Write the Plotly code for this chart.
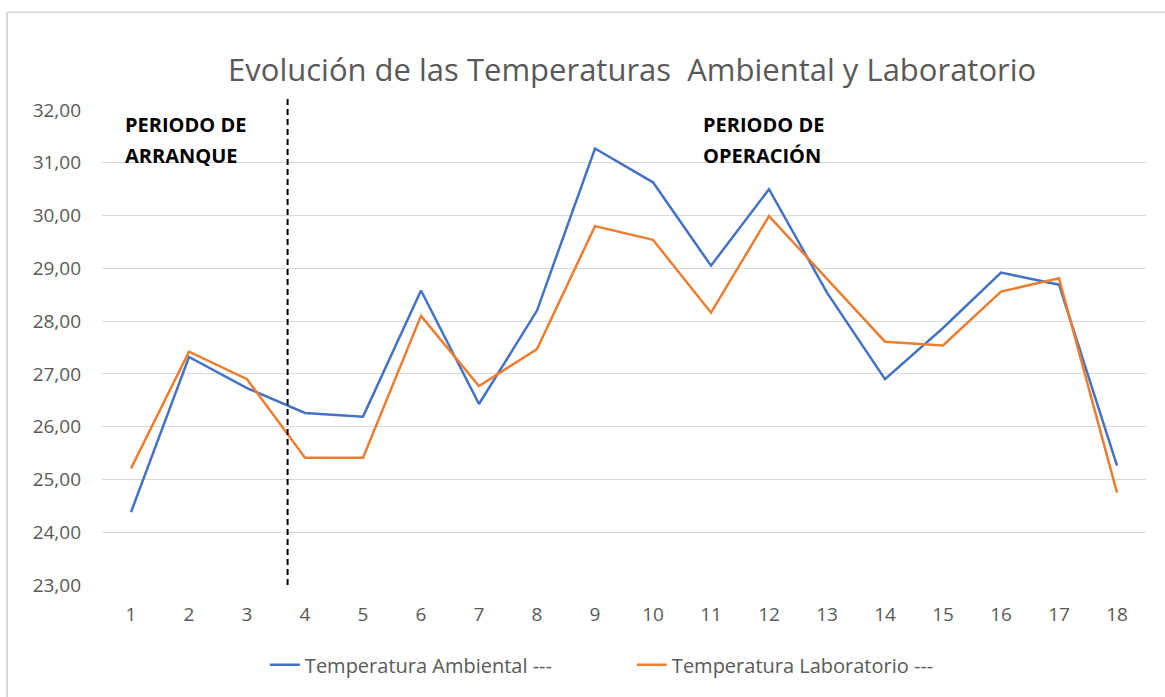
import plotly.graph_objects as go

# Sample index (1..18) and measured temperatures (°C)
muestras = list(range(1, 19))
temp_ambiental = [24.38, 27.32, 26.73, 26.26, 26.19, 28.58, 26.43, 28.20, 31.27,
                  30.63, 29.05, 30.50, 28.54, 26.90, 27.87, 28.92, 28.69, 25.26]
temp_laboratorio = [25.21, 27.42, 26.90, 25.41, 25.41, 28.10, 26.77, 27.47, 29.80,
                    29.54, 28.16, 29.99, 28.80, 27.61, 27.54, 28.56, 28.81, 24.75]

# Axis ticks
y_ticks = [23, 24, 25, 26, 27, 28, 29, 30, 31, 32]
y_ticktext = ["23,00", "24,00", "25,00", "26,00", "27,00", "28,00",
              "29,00", "30,00", "31,00", "32,00"]
x_ticktext = [str(m) for m in muestras]

# Boundary between start-up and operation periods (in sample units)
limite_periodo = 3.7

titulo = "Evolución de las Temperaturas  Ambiental y Laboratorio"
nombres = ["Temperatura Ambiental ---", "Temperatura Laboratorio ---"]
texto_arranque = ["PERIODO DE", "ARRANQUE"]
texto_operacion = ["PERIODO DE", "OPERACIÓN"]

GRIS_TEXTO = "#595959"
GRIS_LINEA = "#D9D9D9"
FUENTE = "Open Sans"

fig = go.Figure()
fig.add_trace(go.Scatter(x=muestras, y=temp_ambiental, mode="lines", name=nombres[0],
                         line=dict(color="#4472C4", width=2.5)))
fig.add_trace(go.Scatter(x=muestras, y=temp_laboratorio, mode="lines", name=nombres[1],
                         line=dict(color="#ED7D31", width=2.5)))

# Dashed divider between the two periods
fig.add_shape(type="line", xref="x", yref="paper", x0=limite_periodo, x1=limite_periodo,
              y0=0, y1=1.025, line=dict(color="black", width=2, dash="6px,4px"))

# Chart frame (top and left edges)
fig.add_shape(type="line", xref="paper", yref="paper", x0=-0.091, x1=1.05, y0=1.206, y1=1.206,
              line=dict(color=GRIS_LINEA, width=2))
fig.add_shape(type="line", xref="paper", yref="paper", x0=-0.091, x1=-0.091, y0=-0.3, y1=1.206,
              line=dict(color=GRIS_LINEA, width=2))

# Period labels
for texto, x0 in ((texto_arranque, 0.86), (texto_operacion, 10.83)):
    for i, linea in enumerate(texto):
        fig.add_annotation(x=x0, y=31.72 - 0.59 * i, xref="x", yref="y", text=linea,
                           showarrow=False, xanchor="left", yanchor="middle",
                           font=dict(family=FUENTE, size=20, color="black", weight="bold"))

fig.update_layout(
    width=1165, height=697,
    margin=dict(l=102, r=19, t=110, b=112),
    paper_bgcolor="white", plot_bgcolor="white",
    title=dict(text=titulo, x=0.5426, xanchor="center", y=0.899, yanchor="middle",
               font=dict(family=FUENTE, size=31, color=GRIS_TEXTO)),
    xaxis=dict(range=[0.5, 18.5], tickvals=muestras, ticktext=x_ticktext,
               showgrid=False, zeroline=False, showline=False, ticks="",
               ticklabelstandoff=16,
               tickfont=dict(family=FUENTE, size=19, color=GRIS_TEXTO)),
    yaxis=dict(range=[23, 32], tickvals=y_ticks, ticktext=y_ticktext,
               showgrid=True, gridcolor=GRIS_LINEA, gridwidth=1,
               zeroline=False, showline=False, ticks="", ticklabelstandoff=20,
               tickfont=dict(family=FUENTE, size=19, color=GRIS_TEXTO)),
    legend=dict(orientation="h", x=0.156, xanchor="left", y=-0.168, yanchor="middle",
                font=dict(family=FUENTE, size=20, color=GRIS_TEXTO),
                entrywidth=322, entrywidthmode="pixels", bgcolor="rgba(0,0,0,0)"),
    showlegend=True,
)

fig.write_html("out.html")
